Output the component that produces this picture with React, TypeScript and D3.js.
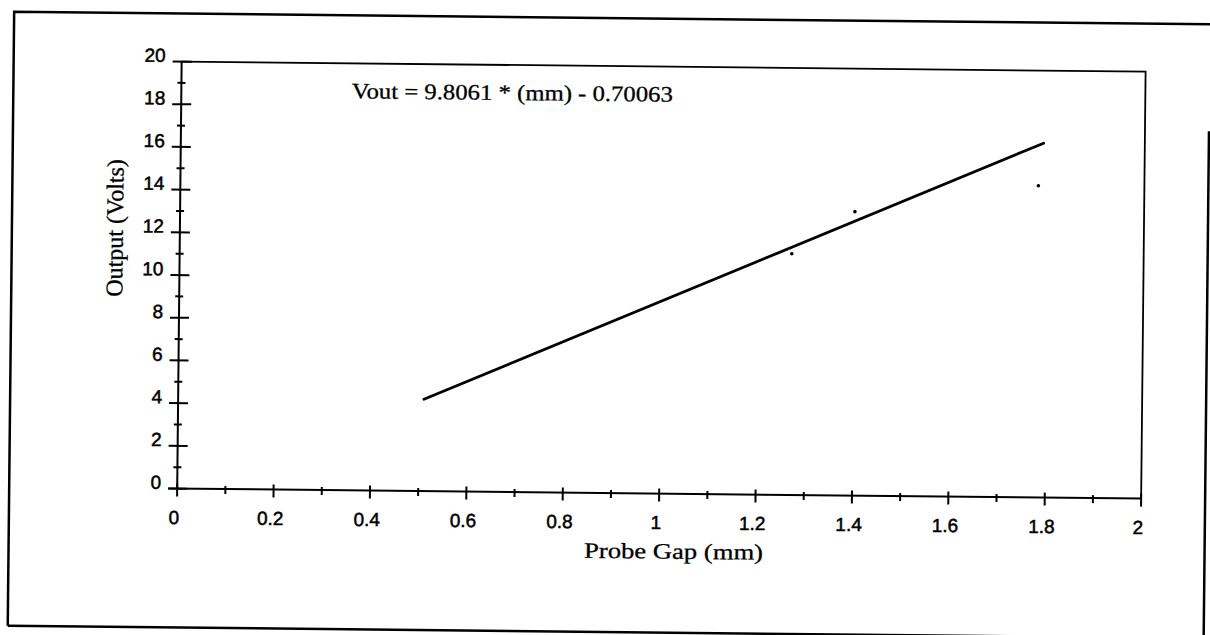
import React from "react";
import * as d3 from "d3";

// ---- data ----
const xTickValues = [0, 0.2, 0.4, 0.6, 0.8, 1, 1.2, 1.4, 1.6, 1.8, 2];
const xMinorValues = [0.1, 0.3, 0.5, 0.7, 0.9, 1.1, 1.3, 1.5, 1.7, 1.9];
const yTickValues = [0, 2, 4, 6, 8, 10, 12, 14, 16, 18, 20];
const yMinorValues = [1, 3, 5, 7, 9, 11, 13, 15, 17, 19];
const fitX = [0.51, 1.79];
const fitY = [4.3, 16.6];
const pointX = [1.27, 1.4, 1.78];
const pointY = [11.3, 13.3, 14.6];
const equationText = "Vout = 9.8061 * (mm) - 0.70063";
const xTitle = "Probe Gap (mm)";
const yTitle = "Output (Volts)";

const W = 1210;
const H = 635;
const L = 179, R = 1143, T = 66, B = 493;

export default function App() {
  const x = d3.scaleLinear().domain([0, 2]).range([L, R]);
  const y = d3.scaleLinear().domain([0, 20]).range([B, T]);
  const fit = fitX.map((v, i) => [v, fitY[i]] as [number, number]);
  const line = d3
    .line<[number, number]>()
    .x((d) => x(d[0]))
    .y((d) => y(d[1]));
  const sans = "'Liberation Sans', Arial, sans-serif";
  const serif = "'Liberation Serif', 'Times New Roman', serif";
  const fmt = (v: number) => (Number.isInteger(v) ? String(v) : v.toFixed(1));

  return (
    <svg
      width={W}
      height={H}
      style={{ position: "absolute", left: 0, top: 0, display: "block", background: "#fff" }}
    >
      <rect x={0} y={0} width={W} height={H} fill="#fff" />
      <g transform="rotate(0.6, 605, 317)">
        {/* outer frame (scan: right edge starts below the top) */}
        <path d="M11,632V18H1230" fill="none" stroke="#000" strokeWidth={2.5} />
        <path d="M11,632H1207V125" fill="none" stroke="#000" strokeWidth={2.5} />
        {/* plot frame top & right */}
        <path d={`M${L},${T}H${R}V${B}`} fill="none" stroke="#000" strokeWidth={1.8} />
        {/* axes */}
        <line x1={L} x2={L} y1={T} y2={B} stroke="#000" strokeWidth={2} />
        <line x1={L - 9} x2={R} y1={B} y2={B} stroke="#000" strokeWidth={2} />
        {/* y ticks */}
        {yTickValues.map((v) => (
          <g key={"yt" + v}>
            <line x1={L - 9} x2={L + 10} y1={y(v)} y2={y(v)} stroke="#000" strokeWidth={2} />
            <text
              x={L - 16}
              y={y(v) - 6}
              textAnchor="end"
              dominantBaseline="central"
              fontFamily={sans}
              fontSize={19}
              fill="#000"
              stroke="#000"
              strokeWidth={0.5}
            >
              {fmt(v)}
            </text>
          </g>
        ))}
        {yMinorValues.map((v) => (
          <line key={"ym" + v} x1={L - 4} x2={L + 4} y1={y(v)} y2={y(v)} stroke="#000" strokeWidth={2} />
        ))}
        {/* x ticks */}
        {xTickValues.map((v) => (
          <g key={"xt" + v}>
            <line x1={x(v)} x2={x(v)} y1={B - 5} y2={B + 8} stroke="#000" strokeWidth={2} />
            <text
              x={x(v) - 3}
              y={B + 29}
              textAnchor="middle"
              dominantBaseline="central"
              fontFamily={sans}
              fontSize={19}
              fill="#000"
              stroke="#000"
              strokeWidth={0.5}
            >
              {fmt(v)}
            </text>
          </g>
        ))}
        {xMinorValues.map((v) => (
          <line key={"xm" + v} x1={x(v)} x2={x(v)} y1={B - 3} y2={B + 5} stroke="#000" strokeWidth={2} />
        ))}
        {/* regression line */}
        <path d={line(fit) || ""} fill="none" stroke="#000" strokeWidth={2.8} strokeLinecap="round" />
        {/* data points */}
        {pointX.map((v, i) => (
          <circle key={"p" + i} cx={x(v)} cy={y(pointY[i])} r={1.8} fill="#000" />
        ))}
        {/* equation */}
        <text x={510} y={101} textAnchor="middle" fontFamily={serif} fontSize={22} fill="#000"
          stroke="#000" strokeWidth={0.3}
          textLength={321} lengthAdjust="spacingAndGlyphs">
          {equationText}
        </text>
        {/* axis titles */}
        <text x={676} y={558} textAnchor="middle" fontFamily={serif} fontSize={22} fill="#000"
          stroke="#000" strokeWidth={0.3}
          textLength={179} lengthAdjust="spacingAndGlyphs">
          {xTitle}
        </text>
        <text
          transform={`translate(122, 233) rotate(-90)`}
          textAnchor="middle"
          fontFamily={serif}
          fontSize={24}
          fill="#000"
          stroke="#000"
          strokeWidth={0.3}
        >
          {yTitle}
        </text>
      </g>
    </svg>
  );
}
